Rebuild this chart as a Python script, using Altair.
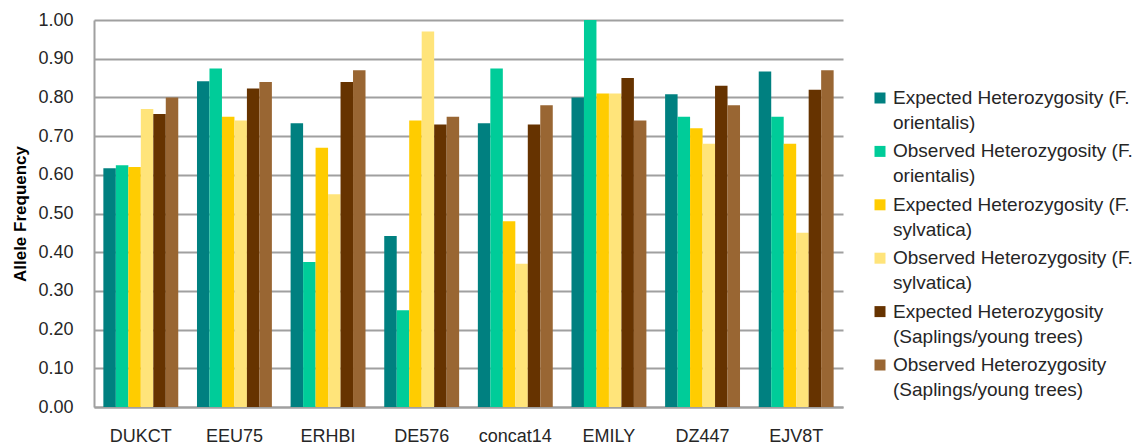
import altair as alt
import pandas as pd

# Microsatellite loci on the x axis
loci = ["DUKCT", "EEU75", "ERHBI", "DE576", "concat14", "EMILY", "DZ447", "EJV8T"]

series = [
    "Expected Heterozygosity (F. orientalis)",
    "Observed Heterozygosity (F. orientalis)",
    "Expected Heterozygosity (F. sylvatica)",
    "Observed Heterozygosity (F. sylvatica)",
    "Expected Heterozygosity (Saplings/young trees)",
    "Observed Heterozygosity (Saplings/young trees)",
]
# legend text, broken into two lines per entry
legend_lines = [
    ["Expected Heterozygosity (F.", "orientalis)"],
    ["Observed Heterozygosity (F.", "orientalis)"],
    ["Expected Heterozygosity (F.", "sylvatica)"],
    ["Observed Heterozygosity (F.", "sylvatica)"],
    ["Expected Heterozygosity", "(Saplings/young trees)"],
    ["Observed Heterozygosity", "(Saplings/young trees)"],
]
colors = ["#008080", "#00CC99", "#FFCC00", "#FFE47A", "#663300", "#996633"]

he_orientalis = [0.617, 0.842, 0.733, 0.442, 0.733, 0.800, 0.808, 0.867]
ho_orientalis = [0.625, 0.875, 0.375, 0.250, 0.875, 1.000, 0.750, 0.750]
he_sylvatica = [0.620, 0.750, 0.670, 0.740, 0.480, 0.810, 0.720, 0.680]
ho_sylvatica = [0.770, 0.740, 0.550, 0.970, 0.370, 0.810, 0.680, 0.450]
he_saplings = [0.757, 0.823, 0.840, 0.730, 0.730, 0.850, 0.830, 0.820]
ho_saplings = [0.800, 0.840, 0.870, 0.750, 0.780, 0.740, 0.780, 0.870]

values = [he_orientalis, ho_orientalis, he_sylvatica, ho_sylvatica, he_saplings, ho_saplings]

rows = []
for s, vals in zip(series, values):
    for locus, v in zip(loci, vals):
        rows.append({"locus": locus, "series": s, "value": v})
df = pd.DataFrame(rows)

FONT = "Liberation Sans"
GRID = "#A0A0A0"
TEXT = "#262626"

color_scale = alt.Scale(domain=series, range=colors)

bars = alt.Chart(df).mark_bar().encode(
    x=alt.X(
        "locus:N",
        sort=loci,
        scale=alt.Scale(paddingInner=0.2, paddingOuter=0.1),
        axis=alt.Axis(
            title=None,
            labelAngle=0,
            ticks=False,
            domainColor=GRID,
            domainWidth=2,
            labelPadding=20,
            labelFontSize=18,
            labelColor=TEXT,
            labelFont=FONT,
        ),
    ),
    xOffset=alt.XOffset("series:N", sort=series, scale=alt.Scale(paddingInner=0, paddingOuter=0)),
    y=alt.Y(
        "value:Q",
        scale=alt.Scale(domain=[0, 1], nice=False),
        axis=alt.Axis(
            title="Allele Frequency",
            values=[0, 0.1, 0.2, 0.3, 0.4, 0.5, 0.6, 0.7, 0.8, 0.9, 1.0],
            format=".2f",
            ticks=False,
            domainColor=GRID,
            domainWidth=2,
            gridColor=GRID,
            gridWidth=2,
            labelPadding=21,
            labelFontSize=18,
            labelColor=TEXT,
            labelFont=FONT,
            titleFont=FONT,
            titleFontSize=17,
            titleFontWeight="bold",
            titleColor="#000000",
            titlePadding=8,
        ),
    ),
    color=alt.Color("series:N", sort=series, scale=color_scale, legend=None),
).properties(width=749, height=387)

legend_df = pd.DataFrame({"series": series, "lines": legend_lines})

legend_y = alt.Y("series:N", sort=series, axis=None,
                 scale=alt.Scale(type="point", range=[78, 345], padding=0))

legend_swatch = alt.Chart(legend_df).mark_square(size=121, opacity=1).encode(
    x=alt.value(17),
    y=legend_y,
    color=alt.Color("series:N", sort=series, scale=color_scale, legend=None),
)

legend_text = alt.Chart(legend_df).mark_text(
    align="left",
    baseline="middle",
    fontSize=19,
    lineHeight=25,
    font=FONT,
    color=TEXT,
).encode(
    x=alt.value(30),
    y=legend_y,
    text="lines:N",
)

legend = alt.layer(legend_swatch, legend_text).properties(width=250, height=387)

chart = (
    alt.hconcat(bars, legend, spacing=20)
    .properties(background="white", padding={"left": 11, "top": 11, "right": 5, "bottom": 5})
    .configure_view(stroke=None)
)

chart.save("out.html", embed_options={"renderer": "svg", "actions": False})
